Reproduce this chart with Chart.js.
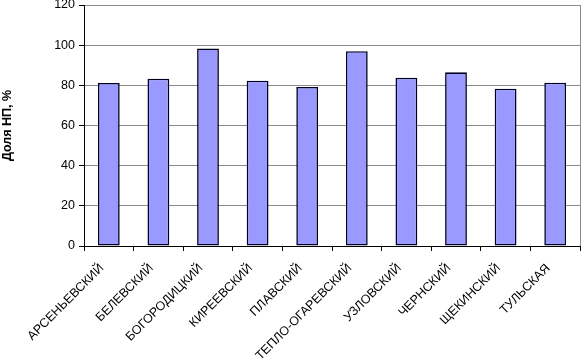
<!DOCTYPE html>
<html>
<head>
<meta charset="utf-8">
<script src="https://cdn.jsdelivr.net/npm/chart.js@4/dist/chart.umd.min.js"></script>
<style>
html,body{margin:0;padding:0;background:#fff;}
#wrap{width:585px;height:363px;position:relative;}
</style>
</head>
<body>
<div id="wrap"><canvas id="c"></canvas></div>
<script>
const categories = ["АРСЕНЬЕВСКИЙ","БЕЛЕВСКИЙ","БОГОРОДИЦКИЙ","КИРЕЕВСКИЙ","ПЛАВСКИЙ","ТЕПЛО-ОГАРЕВСКИЙ","УЗЛОВСКИЙ","ЧЕРНСКИЙ","ЩЕКИНСКИЙ","ТУЛЬСКАЯ"];
const shareValues = [81.2, 83.3, 98.4, 82.3, 79.2, 97.0, 83.8, 86.5, 78.3, 81.3];
const yTicks = [0, 20, 40, 60, 80, 100, 120];
const yTitle = "Доля НП, %";

const borderPlugin = {
  id: 'areaBorder',
  afterDraw(chart) {
    const a = chart.chartArea, ctx = chart.ctx;
    ctx.save();
    ctx.strokeStyle = '#8c8c8c';
    ctx.lineWidth = 1;
    ctx.beginPath();
    ctx.moveTo(Math.round(a.right) + 0.5, a.top);
    ctx.lineTo(Math.round(a.right) + 0.5, a.bottom);
    ctx.stroke();
    ctx.restore();
  }
};

new Chart(document.getElementById('c'), {
  type: 'bar',
  data: {
    labels: categories,
    datasets: [{
      data: shareValues,
      backgroundColor: '#9999FF',
      borderColor: '#000022',
      borderWidth: 1.6,
      borderSkipped: false,
      categoryPercentage: 1,
      barPercentage: 0.44
    }]
  },
  options: {
    responsive: true,
    maintainAspectRatio: false,
    animation: false,
    layout: { padding: { top: 5, right: 5, left: 0, bottom: 0 } },
    plugins: { legend: { display: false }, tooltip: { enabled: false } },
    scales: {
      x: {
        offset: true,
        grid: { display: true, drawOnChartArea: false, drawTicks: true, tickLength: 5, tickColor: '#000', offset: true },
        border: { display: true, color: '#000', width: 1 },
        ticks: {
          color: '#000', minRotation: 45, maxRotation: 45, autoSkip: false, padding: 10, labelOffset: -7,
          font: { family: 'Liberation Sans', size: 12.5 }
        },
        afterFit(scale) { scale.height = 117; }
      },
      y: {
        min: 0, max: 120,
        afterBuildTicks(scale) { scale.ticks = yTicks.map(v => ({ value: v })); },
        grid: { color: '#8c8c8c', lineWidth: 1, drawTicks: true, tickLength: 5, tickColor: '#000' },
        border: { display: true, color: '#000', width: 1 },
        ticks: { color: '#000', padding: 4, font: { family: 'Liberation Sans', size: 12.5 } },
        title: {
          display: true, text: yTitle, color: '#000',
          font: { family: 'Liberation Sans', size: 12.5, weight: 'bold' },
          padding: { top: 0, bottom: 14 }
        },
        afterFit(scale) { scale.width = 84; scale.paddingTop = 0; }
      }
    }
  },
  plugins: [borderPlugin]
});
</script>
</body>
</html>
